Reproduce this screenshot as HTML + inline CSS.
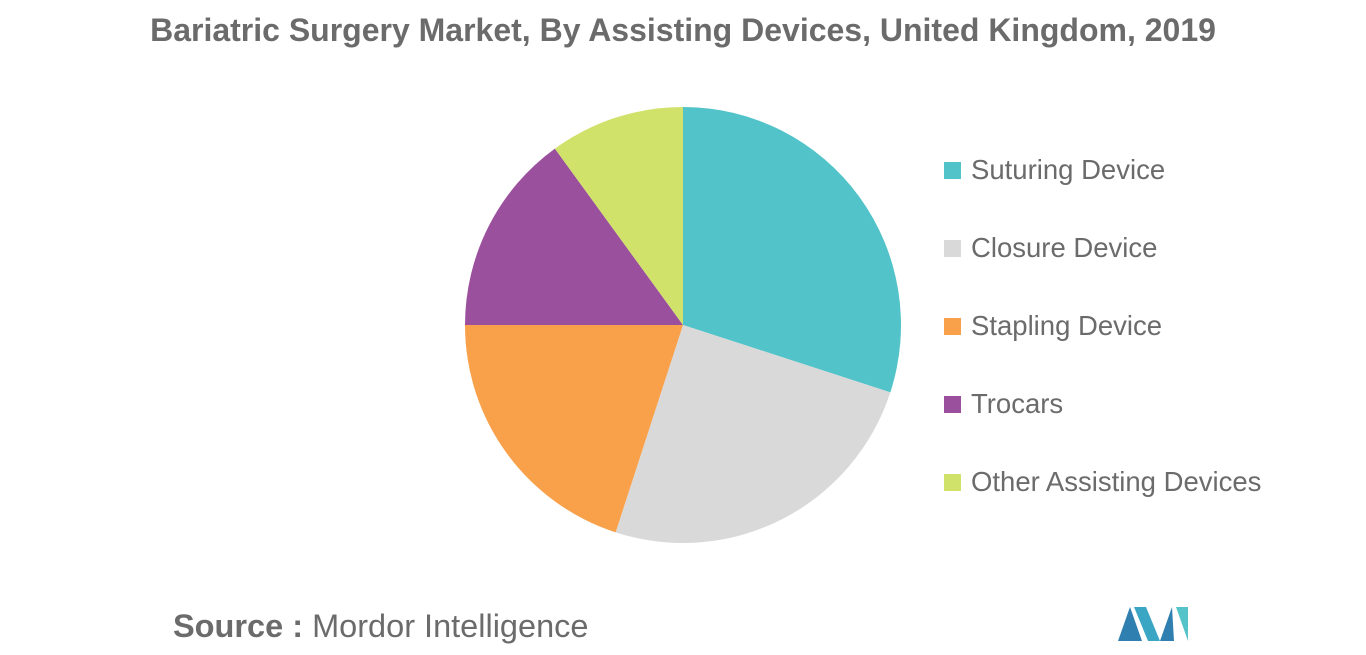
<!DOCTYPE html>
<html><head><meta charset="utf-8"><style>
body{margin:0;width:1366px;height:655px;background:#fff;font-family:"Liberation Sans",sans-serif;overflow:hidden;position:relative}
#title{position:absolute;top:12px;left:0;width:1366px;text-align:center;font-size:32px;font-weight:bold;color:#6b6b6b}
.leg{position:absolute;left:944px;font-size:27.5px;color:#6b6b6b;height:30px;line-height:30px}
.leg span{display:inline-block;width:17px;height:17px;margin-right:10px;vertical-align:0px}
#src{position:absolute;left:173px;top:608px;font-size:32.5px;color:#6b6b6b}
</style></head><body>
<div id="title">Bariatric Surgery Market, By Assisting Devices, United Kingdom, 2019</div>
<svg id="pie" width="1366" height="655" style="position:absolute;left:0;top:0"></svg>
<div id="legend"></div>
<div id="src"><b>Source :</b> Mordor Intelligence</div>
<svg width="80" height="40" style="position:absolute;left:1116px;top:603px">
<polygon points="2,38 14,4 26,38" fill="#2f7fb0"/><polygon points="18,4 30,4 44,38 32,38" fill="#3aa6c4"/>
<polygon points="44,38 56,4 58,38" fill="#2f7fb0"/><polygon points="60,4 72,4 72,38" fill="#55c4c8"/>
</svg>
<script>
const categories=["Suturing Device","Closure Device","Stapling Device","Trocars","Other Assisting Devices"];
const values=[30,25,20,15,10];
const colors=["#52c4c9","#d9d9d9","#f9a04a","#9b509d","#d1e26b"];
const svg=document.getElementById('pie');
const cx=683,cy=325,r=218;
const total=values.reduce((a,b)=>a+b,0);
let a0=0;
function pt(a){return [cx+r*Math.sin(a),cy-r*Math.cos(a)];}
values.forEach((v,i)=>{
 const a1=a0+v/total*2*Math.PI;
 const p0=pt(a0),p1=pt(a1);
 const path=document.createElementNS('http://www.w3.org/2000/svg','path');
 path.setAttribute('d',`M${cx},${cy} L${p0[0]},${p0[1]} A${r},${r} 0 ${a1-a0>Math.PI?1:0} 1 ${p1[0]},${p1[1]} Z`);
 path.setAttribute('fill',colors[i]);
 
 
 svg.appendChild(path);
 a0=a1;
});
const lg=document.getElementById('legend');
categories.forEach((c,i)=>{
 const d=document.createElement('div');
 d.className='leg';d.style.top=(155+78*i)+'px';
 
 
 d.innerHTML=`<span style="background:${colors[i]}"></span>${c}`;
 lg.appendChild(d);
});
</script>
</body></html>
